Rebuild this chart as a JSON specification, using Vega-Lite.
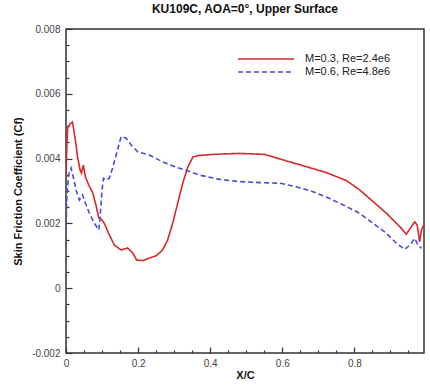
{
  "$schema": "https://vega.github.io/schema/vega-lite/v6.json",
  "autosize": {"type": "none"},
  "width": 358,
  "height": 324,
  "padding": {"left": 66, "top": 29, "right": 6, "bottom": 34},
  "title": {"text": "KU109C, AOA=0°, Upper Surface", "fontSize": 12, "fontWeight": "bold", "font": "Liberation Sans", "color": "#111", "offset": 8},
  "config": {
    "view": {"stroke": "#333", "strokeWidth": 1.5},
    "font": "Liberation Sans"
  },
  "data": {"values": [
    {"s": "M=0.3, Re=2.4e6", "x": 0, "y": 0.0034},
    {"s": "M=0.3, Re=2.4e6", "x": 0.002, "y": 0.00427},
    {"s": "M=0.3, Re=2.4e6", "x": 0.0045, "y": 0.00494},
    {"s": "M=0.3, Re=2.4e6", "x": 0.011, "y": 0.00507},
    {"s": "M=0.3, Re=2.4e6", "x": 0.0175, "y": 0.00513},
    {"s": "M=0.3, Re=2.4e6", "x": 0.02, "y": 0.005},
    {"s": "M=0.3, Re=2.4e6", "x": 0.026, "y": 0.00457},
    {"s": "M=0.3, Re=2.4e6", "x": 0.032, "y": 0.00406},
    {"s": "M=0.3, Re=2.4e6", "x": 0.039, "y": 0.00365},
    {"s": "M=0.3, Re=2.4e6", "x": 0.043, "y": 0.00355},
    {"s": "M=0.3, Re=2.4e6", "x": 0.048, "y": 0.0038},
    {"s": "M=0.3, Re=2.4e6", "x": 0.054, "y": 0.00343},
    {"s": "M=0.3, Re=2.4e6", "x": 0.063, "y": 0.00319},
    {"s": "M=0.3, Re=2.4e6", "x": 0.074, "y": 0.00294},
    {"s": "M=0.3, Re=2.4e6", "x": 0.083, "y": 0.00257},
    {"s": "M=0.3, Re=2.4e6", "x": 0.091, "y": 0.00217},
    {"s": "M=0.3, Re=2.4e6", "x": 0.097, "y": 0.00214},
    {"s": "M=0.3, Re=2.4e6", "x": 0.106, "y": 0.00201},
    {"s": "M=0.3, Re=2.4e6", "x": 0.118, "y": 0.0017},
    {"s": "M=0.3, Re=2.4e6", "x": 0.134, "y": 0.00133},
    {"s": "M=0.3, Re=2.4e6", "x": 0.153, "y": 0.00118},
    {"s": "M=0.3, Re=2.4e6", "x": 0.171, "y": 0.00124},
    {"s": "M=0.3, Re=2.4e6", "x": 0.185, "y": 0.00109},
    {"s": "M=0.3, Re=2.4e6", "x": 0.196, "y": 0.00087},
    {"s": "M=0.3, Re=2.4e6", "x": 0.213, "y": 0.00085},
    {"s": "M=0.3, Re=2.4e6", "x": 0.231, "y": 0.00093},
    {"s": "M=0.3, Re=2.4e6", "x": 0.25, "y": 0.001},
    {"s": "M=0.3, Re=2.4e6", "x": 0.268, "y": 0.00118},
    {"s": "M=0.3, Re=2.4e6", "x": 0.282, "y": 0.00149},
    {"s": "M=0.3, Re=2.4e6", "x": 0.296, "y": 0.00201},
    {"s": "M=0.3, Re=2.4e6", "x": 0.31, "y": 0.00263},
    {"s": "M=0.3, Re=2.4e6", "x": 0.324, "y": 0.00325},
    {"s": "M=0.3, Re=2.4e6", "x": 0.338, "y": 0.00374},
    {"s": "M=0.3, Re=2.4e6", "x": 0.352, "y": 0.00405},
    {"s": "M=0.3, Re=2.4e6", "x": 0.37, "y": 0.0041},
    {"s": "M=0.3, Re=2.4e6", "x": 0.426, "y": 0.00414},
    {"s": "M=0.3, Re=2.4e6", "x": 0.481, "y": 0.00416},
    {"s": "M=0.3, Re=2.4e6", "x": 0.551, "y": 0.00413},
    {"s": "M=0.3, Re=2.4e6", "x": 0.602, "y": 0.00396},
    {"s": "M=0.3, Re=2.4e6", "x": 0.667, "y": 0.00375},
    {"s": "M=0.3, Re=2.4e6", "x": 0.722, "y": 0.00357},
    {"s": "M=0.3, Re=2.4e6", "x": 0.778, "y": 0.00332},
    {"s": "M=0.3, Re=2.4e6", "x": 0.815, "y": 0.00303},
    {"s": "M=0.3, Re=2.4e6", "x": 0.852, "y": 0.00267},
    {"s": "M=0.3, Re=2.4e6", "x": 0.889, "y": 0.00231},
    {"s": "M=0.3, Re=2.4e6", "x": 0.926, "y": 0.0019},
    {"s": "M=0.3, Re=2.4e6", "x": 0.944, "y": 0.00167},
    {"s": "M=0.3, Re=2.4e6", "x": 0.958, "y": 0.0019},
    {"s": "M=0.3, Re=2.4e6", "x": 0.967, "y": 0.00205},
    {"s": "M=0.3, Re=2.4e6", "x": 0.974, "y": 0.00195},
    {"s": "M=0.3, Re=2.4e6", "x": 0.981, "y": 0.00143},
    {"s": "M=0.3, Re=2.4e6", "x": 0.986, "y": 0.0018},
    {"s": "M=0.3, Re=2.4e6", "x": 0.992, "y": 0.00195},
    {"s": "M=0.6, Re=4.8e6", "x": 0, "y": 0.0017},
    {"s": "M=0.6, Re=4.8e6", "x": 0.002, "y": 0.0027},
    {"s": "M=0.6, Re=4.8e6", "x": 0.007, "y": 0.00349},
    {"s": "M=0.6, Re=4.8e6", "x": 0.014, "y": 0.00371},
    {"s": "M=0.6, Re=4.8e6", "x": 0.02, "y": 0.00344},
    {"s": "M=0.6, Re=4.8e6", "x": 0.028, "y": 0.00303},
    {"s": "M=0.6, Re=4.8e6", "x": 0.037, "y": 0.00272},
    {"s": "M=0.6, Re=4.8e6", "x": 0.046, "y": 0.00288},
    {"s": "M=0.6, Re=4.8e6", "x": 0.054, "y": 0.00262},
    {"s": "M=0.6, Re=4.8e6", "x": 0.065, "y": 0.00231},
    {"s": "M=0.6, Re=4.8e6", "x": 0.079, "y": 0.002},
    {"s": "M=0.6, Re=4.8e6", "x": 0.091, "y": 0.0018},
    {"s": "M=0.6, Re=4.8e6", "x": 0.094, "y": 0.00211},
    {"s": "M=0.6, Re=4.8e6", "x": 0.1, "y": 0.00303},
    {"s": "M=0.6, Re=4.8e6", "x": 0.104, "y": 0.00339},
    {"s": "M=0.6, Re=4.8e6", "x": 0.111, "y": 0.00334},
    {"s": "M=0.6, Re=4.8e6", "x": 0.12, "y": 0.00339},
    {"s": "M=0.6, Re=4.8e6", "x": 0.129, "y": 0.0037},
    {"s": "M=0.6, Re=4.8e6", "x": 0.139, "y": 0.00411},
    {"s": "M=0.6, Re=4.8e6", "x": 0.153, "y": 0.00468},
    {"s": "M=0.6, Re=4.8e6", "x": 0.167, "y": 0.00463},
    {"s": "M=0.6, Re=4.8e6", "x": 0.181, "y": 0.00442},
    {"s": "M=0.6, Re=4.8e6", "x": 0.199, "y": 0.00421},
    {"s": "M=0.6, Re=4.8e6", "x": 0.231, "y": 0.00411},
    {"s": "M=0.6, Re=4.8e6", "x": 0.268, "y": 0.0039},
    {"s": "M=0.6, Re=4.8e6", "x": 0.306, "y": 0.00373},
    {"s": "M=0.6, Re=4.8e6", "x": 0.343, "y": 0.0036},
    {"s": "M=0.6, Re=4.8e6", "x": 0.37, "y": 0.00349},
    {"s": "M=0.6, Re=4.8e6", "x": 0.426, "y": 0.00336},
    {"s": "M=0.6, Re=4.8e6", "x": 0.481, "y": 0.00329},
    {"s": "M=0.6, Re=4.8e6", "x": 0.537, "y": 0.00326},
    {"s": "M=0.6, Re=4.8e6", "x": 0.593, "y": 0.00324},
    {"s": "M=0.6, Re=4.8e6", "x": 0.639, "y": 0.00313},
    {"s": "M=0.6, Re=4.8e6", "x": 0.685, "y": 0.00298},
    {"s": "M=0.6, Re=4.8e6", "x": 0.731, "y": 0.00277},
    {"s": "M=0.6, Re=4.8e6", "x": 0.778, "y": 0.00252},
    {"s": "M=0.6, Re=4.8e6", "x": 0.815, "y": 0.00231},
    {"s": "M=0.6, Re=4.8e6", "x": 0.852, "y": 0.002},
    {"s": "M=0.6, Re=4.8e6", "x": 0.889, "y": 0.00169},
    {"s": "M=0.6, Re=4.8e6", "x": 0.917, "y": 0.00138},
    {"s": "M=0.6, Re=4.8e6", "x": 0.94, "y": 0.0012},
    {"s": "M=0.6, Re=4.8e6", "x": 0.954, "y": 0.00133},
    {"s": "M=0.6, Re=4.8e6", "x": 0.967, "y": 0.00154},
    {"s": "M=0.6, Re=4.8e6", "x": 0.977, "y": 0.00133},
    {"s": "M=0.6, Re=4.8e6", "x": 0.986, "y": 0.00123}
  ]},
  "mark": {"type": "line", "strokeWidth": 1.6, "clip": true},
  "encoding": {
    "x": {
      "field": "x", "type": "quantitative",
      "scale": {"domain": [0, 0.993], "nice": false, "zero": false},
      "axis": {
        "title": "X/C", "titleFontSize": 11, "titleFontWeight": "bold", "titleColor": "#111", "titlePadding": 1,
        "values": [0, 0.05, 0.1, 0.15, 0.2, 0.25, 0.3, 0.35, 0.4, 0.45, 0.5, 0.55, 0.6, 0.65, 0.7, 0.75, 0.8, 0.85, 0.9, 0.95],
        "labelExpr": "abs(datum.value*5-round(datum.value*5))<0.001 ? format(datum.value,'~g') : ''",
        "domain": false, "grid": false,
        "tickColor": "#333", "tickWidth": 1.2,
        "tickSize": {"condition": {"test": "abs(datum.value*5-round(datum.value*5))<0.001", "value": -6}, "value": -3},
        "labelPadding": 11, "labelFontSize": 10, "labelColor": "#444", "labelFlush": false
      }
    },
    "y": {
      "field": "y", "type": "quantitative",
      "scale": {"domain": [-0.002, 0.008], "nice": false, "zero": false},
      "axis": {
        "title": "Skin Friction Coefficient (Cf)", "titleFontSize": 11, "titleFontWeight": "bold", "titleColor": "#111", "titlePadding": 8,
        "values": [-0.002, -0.0015, -0.001, -0.0005, 0, 0.0005, 0.001, 0.0015, 0.002, 0.0025, 0.003, 0.0035, 0.004, 0.0045, 0.005, 0.0055, 0.006, 0.0065, 0.007, 0.0075, 0.008],
        "labelExpr": "abs(datum.value*500-round(datum.value*500))<0.001 ? replace(format(datum.value,'~g'),'−','-') : ''",
        "domain": false, "grid": false,
        "tickColor": "#333", "tickWidth": 1.2,
        "tickSize": {"condition": {"test": "abs(datum.value*500-round(datum.value*500))<0.001", "value": -6}, "value": -3},
        "labelPadding": 12, "labelFontSize": 10, "labelColor": "#444", "labelFlush": false
      }
    },
    "color": {
      "field": "s", "type": "nominal",
      "scale": {"domain": ["M=0.3, Re=2.4e6", "M=0.6, Re=4.8e6"], "range": ["#d62828", "#4a4ad6"]},
      "legend": {
        "title": null, "orient": "none", "legendX": 194, "legendY": 24,
        "symbolType": "M-5.6,0H5.6", "symbolSize": 100, "symbolStrokeWidth": 1.6,
        "labelFontSize": 11, "labelColor": "#222", "labelOffset": 33, "rowPadding": 2
      }
    },
    "strokeDash": {
      "field": "s", "type": "nominal",
      "scale": {"domain": ["M=0.3, Re=2.4e6", "M=0.6, Re=4.8e6"], "range": [[1, 0], [5, 3]]},
      "legend": {
        "title": null, "orient": "none", "legendX": 194, "legendY": 24,
        "symbolType": "M-5.6,0H5.6", "symbolSize": 100, "symbolStrokeWidth": 1.6,
        "labelFontSize": 11, "labelColor": "#222", "labelOffset": 33, "rowPadding": 2
      }
    }
  }
}
